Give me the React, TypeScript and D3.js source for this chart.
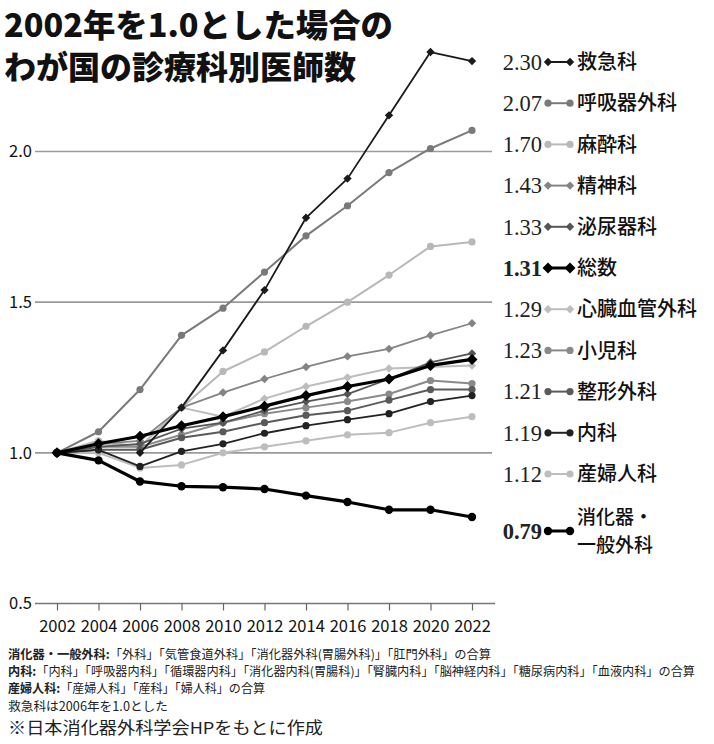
import React, { useEffect, useRef } from 'react';
import * as d3 from 'd3';

const years = [2002, 2004, 2006, 2008, 2010, 2012, 2014, 2016, 2018, 2020, 2022];

const names = ['救急科', '呼吸器外科', '麻酔科', '精神科', '泌尿器科', '総数', '心臓血管外科', '小児科', '整形外科', '内科', '産婦人科', '消化器・一般外科'];
const finalLabels = ['2.30', '2.07', '1.70', '1.43', '1.33', '1.31', '1.29', '1.23', '1.21', '1.19', '1.12', '0.79'];

const qqValues = [null, null, 1.0, 1.15, 1.34, 1.54, 1.78, 1.91, 2.12, 2.33, 2.30];
const kokyukiValues = [1.0, 1.07, 1.21, 1.39, 1.48, 1.60, 1.72, 1.82, 1.93, 2.01, 2.07];
const masuiValues = [1.0, 1.04, 1.02, 1.15, 1.27, 1.335, 1.42, 1.50, 1.59, 1.685, 1.70];
const seishinValues = [1.0, 1.03, 1.04, 1.15, 1.20, 1.245, 1.285, 1.32, 1.345, 1.39, 1.43];
const hinyokiValues = [1.0, 1.02, 1.03, 1.08, 1.10, 1.14, 1.17, 1.195, 1.245, 1.30, 1.33];
const totalValues = [1.0, 1.03, 1.055, 1.09, 1.12, 1.155, 1.19, 1.22, 1.245, 1.29, 1.31];
const shinzoValues = [1.0, 1.03, 1.02, 1.15, 1.12, 1.18, 1.22, 1.25, 1.28, 1.285, 1.29];
const shoniValues = [1.0, 1.02, 1.02, 1.06, 1.10, 1.13, 1.15, 1.17, 1.195, 1.24, 1.23];
const seikeiValues = [1.0, 1.01, 1.01, 1.05, 1.07, 1.10, 1.125, 1.14, 1.175, 1.21, 1.21];
const naikaValues = [1.0, 1.01, 0.955, 1.005, 1.03, 1.065, 1.09, 1.11, 1.13, 1.17, 1.19];
const sanfujinValues = [1.0, 1.0, 0.95, 0.96, 1.0, 1.02, 1.04, 1.06, 1.067, 1.10, 1.12];
const shokakiValues = [1.0, 0.975, 0.905, 0.889, 0.886, 0.88, 0.858, 0.837, 0.811, 0.811, 0.787];

const allValues = [qqValues, kokyukiValues, masuiValues, seishinValues, hinyokiValues, totalValues, shinzoValues, shoniValues, seikeiValues, naikaValues, sanfujinValues, shokakiValues];

const yTicks = [0.5, 1.0, 1.5, 2.0];
const gridTicks = [1.0, 1.5, 2.0];

const footnotes = [
  ['消化器・一般外科:', '「外科」「気管食道外科」「消化器外科(胃腸外科)」「肛門外科」の合算'],
  ['内科:', '「内科」「呼吸器内科」「循環器内科」「消化器内科(胃腸科)」「腎臓内科」「脳神経内科」「糖尿病内科」「血液内科」の合算'],
  ['産婦人科:', '「産婦人科」「産科」「婦人科」の合算'],
  ['', '救急科は2006年を1.0とした'],
];

const App: React.FC = () => {
  const svgRef = useRef<SVGSVGElement>(null);

  useEffect(() => {
    document.body.style.margin = '0';
    if (!svgRef.current) return;
    const svg = d3.select(svgRef.current);
    svg.selectAll('*').remove();

    const sans = '"Noto Sans CJK JP", "Noto Sans", sans-serif';
    const narrow = '"Liberation Sans Narrow", "Noto Sans CJK JP", sans-serif';
    const serif = '"Liberation Serif", "DejaVu Serif", serif';

    // series styles (color, width, marker)
    const colors = ['#1a1a1a', '#7a7a7a', '#b8b8b8', '#848484', '#555555', '#000000', '#bdbdbd', '#8a8a8a', '#5a5a5a', '#222222', '#bdbdbd', '#000000'];
    const widths = [1.8, 2, 2, 1.8, 1.8, 3.2, 2, 2, 2, 1.8, 2, 3.2];
    const diamond = [true, false, false, true, true, true, true, false, false, false, false, false];

    const x = d3.scaleLinear().domain([2002, 2022]).range([57, 472]);
    const y = d3.scaleLinear().domain([0.5, 2.0]).range([603.5, 151.5]);

    // title
    const title = svg.append('text').attr('font-family', sans).attr('font-weight', 900).attr('font-size', 32).attr('fill', '#111');
    title.append('tspan').attr('x', 4).attr('y', 37).attr('textLength', 389).attr('lengthAdjust', 'spacingAndGlyphs').text('2002年を1.0とした場合の');
    title.append('tspan').attr('x', 4).attr('y', 79).text('わが国の診療科別医師数');

    // grid
    svg.append('g').selectAll('line').data(gridTicks).enter().append('line')
      .attr('x1', 35).attr('x2', 492)
      .attr('y1', d => y(d)).attr('y2', d => y(d))
      .attr('stroke', '#9a9a9a').attr('stroke-width', 1.6);

    // x axis
    const xAxis = svg.append('g').attr('transform', `translate(0,${y(0.5)})`)
      .call(d3.axisBottom(x).tickValues(years).tickFormat(d3.format('d')).tickSize(7).tickSizeOuter(0));
    xAxis.select('.domain').attr('d', `M35,0H495`).attr('stroke', '#777').attr('stroke-width', 1.6);
    xAxis.selectAll('line').attr('stroke', '#666').attr('stroke-width', 1.2);
    xAxis.selectAll('text').attr('font-family', narrow).attr('font-size', 16.5).attr('fill', '#111').attr('dy', '1.15em');

    // y labels
    svg.append('g').selectAll('text').data(yTicks).enter().append('text')
      .attr('x', 32).attr('y', d => y(d)).attr('dy', '0.36em')
      .attr('text-anchor', 'end').attr('font-family', narrow).attr('font-size', 16.5).attr('fill', '#111')
      .text(d => d.toFixed(1));

    const line = d3.line<number | null>()
      .defined(d => d !== null)
      .x((_, i) => x(years[i]))
      .y(d => y(d as number));

    const drawMarker = (g: d3.Selection<SVGGElement, unknown, null, undefined>, cx: number, cy: number, i: number) => {
      const big = widths[i] > 3;
      if (diamond[i]) {
        const s = big ? 5.5 : 4.2;
        g.append('path').attr('d', `M${cx},${cy - s}L${cx + s},${cy}L${cx},${cy + s}L${cx - s},${cy}Z`).attr('fill', colors[i]);
      } else {
        g.append('circle').attr('cx', cx).attr('cy', cy).attr('r', big ? 4.2 : 3.6).attr('fill', colors[i]);
      }
    };

    const drawOrder = [2, 10, 6, 1, 3, 7, 8, 4, 9, 0, 11, 5];
    const plot = svg.append('g');
    drawOrder.forEach(i => {
      const vals = allValues[i];
      const g = plot.append('g');
      g.append('path').attr('d', line(vals) as string).attr('fill', 'none')
        .attr('stroke', colors[i]).attr('stroke-width', widths[i]).attr('stroke-linejoin', 'round');
      vals.forEach((v, j) => {
        if (v !== null) drawMarker(g, x(years[j]), y(v), i);
      });
    });

    // legend on the right
    const leg = svg.append('g');
    names.forEach((name, i) => {
      const ry = i < 11 ? 62 + i * 41.2 : 531;
      const bold = widths[i] > 3;
      leg.append('text').attr('x', 542).attr('y', ry).attr('dy', '0.35em').attr('text-anchor', 'end')
        .attr('font-family', serif).attr('font-size', 22.5).attr('font-weight', bold ? 700 : 400)
        .attr('fill', '#222').text(finalLabels[i]);
      const lg = leg.append('g');
      lg.append('line').attr('x1', 548).attr('x2', 570).attr('y1', ry).attr('y2', ry)
        .attr('stroke', colors[i]).attr('stroke-width', bold ? 3 : 2);
      drawMarker(lg, 548, ry, i);
      drawMarker(lg, 570, ry, i);
      if (i < 11) {
        leg.append('text').attr('x', 577).attr('y', ry).attr('dy', '0.36em')
          .attr('font-family', sans).attr('font-weight', 500).attr('font-size', 20).attr('fill', '#111').text(name);
      } else {
        leg.append('text').attr('x', 577).attr('y', 517).attr('dy', '0.36em')
          .attr('font-family', sans).attr('font-weight', 500).attr('font-size', 19).attr('fill', '#111').text('消化器・');
        leg.append('text').attr('x', 577).attr('y', 545).attr('dy', '0.36em')
          .attr('font-family', sans).attr('font-weight', 500).attr('font-size', 19).attr('fill', '#111').text('一般外科');
      }
    });

    // footnotes
    const footWidths = [483, 687, 257, 160];
    footnotes.forEach((f, i) => {
      const t = svg.append('text').attr('x', 8).attr('y', 659 + i * 17.2)
        .attr('font-family', sans).attr('font-size', 12.5).attr('fill', '#222')
        .attr('textLength', footWidths[i]).attr('lengthAdjust', 'spacingAndGlyphs');
      if (f[0]) t.append('tspan').attr('font-weight', 700).text(f[0]);
      t.append('tspan').text(f[1]);
    });
    svg.append('text').attr('x', 8).attr('y', 734)
      .attr('font-family', sans).attr('font-size', 16.5).attr('fill', '#222')
      .attr('textLength', 315).attr('lengthAdjust', 'spacingAndGlyphs')
      .text('※日本消化器外科学会HPをもとに作成');
  }, []);

  return <svg ref={svgRef} width={714} height={744} viewBox="0 0 714 744" style={{ display: 'block', background: '#fff' }} />;
};

export default App;
